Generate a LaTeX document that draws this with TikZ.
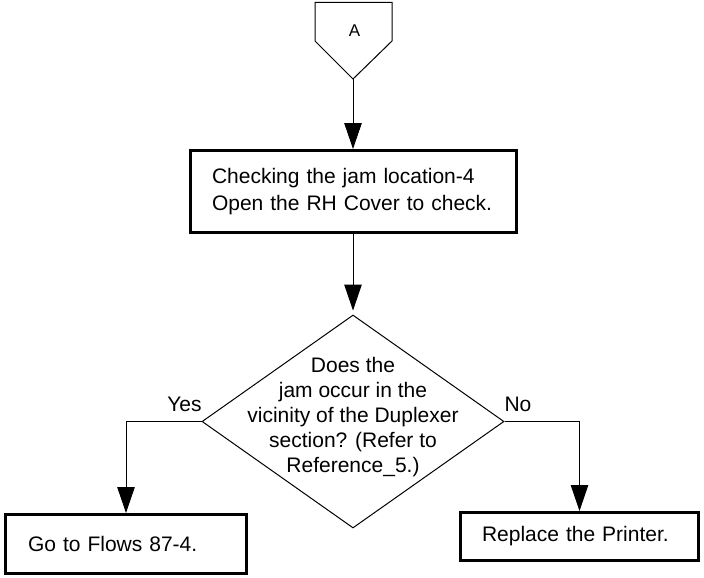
\documentclass[tikz,border=0pt]{standalone}
\usepackage{fontspec}
\setmainfont{Liberation Sans}
\usetikzlibrary{arrows.meta,shapes.geometric}
\begin{document}
\begin{tikzpicture}[x=1pt,y=-1pt,
  conn/.style={line width=1pt,-{Triangle[length=26pt,width=17.5pt]}},
  procbox/.style={draw,line width=3.3pt,rectangle,align=left,inner ysep=0pt,
    font=\fontsize{21}{27}\selectfont},
  lbl/.style={inner sep=0pt,font=\fontsize{21}{25}\selectfont},
  decision/.style={draw,line width=1pt,diamond,inner sep=0pt}
]
\useasboundingbox (0,0) rectangle (704,578);
% off-page connector A
\node[inner sep=0pt,font=\fontsize{17}{20}\selectfont] (A) at (354.5,31) {A};
\coordinate (Ap) at (353,79);
\draw[line width=1pt] (315,2.5) -- (392,2.5) -- (392,41) -- (Ap) -- (315,41) -- cycle;
% process box
\node[procbox,minimum width=325.7pt,minimum height=81.7pt,text width=283pt,inner xsep=21.35pt]
  (b1) at (353.5,191.5) {Checking the jam location-4\\Open the RH Cover to check.};
% decision
\node[decision,minimum width=302pt,minimum height=213pt] (dia) at (353,421.5) {};
\node[lbl,align=center] (diat) at (353,417)
  {Does the\\jam occur in the\\vicinity of the Duplexer\\section? (Refer to\\Reference\_5.)};
% results
\node[procbox,minimum width=240.7pt,minimum height=58.7pt,text width=196pt,inner xsep=22.35pt]
  (go) at (126,544) {Go to Flows 87-4.};
\node[procbox,minimum width=237.7pt,minimum height=47.7pt,text width=195pt,inner xsep=21.35pt]
  (rep) at (579.5,536.5) {Replace the Printer.};
% labels
\node[lbl] (yes) at (184.5,404) {Yes};
\node[lbl] (no) at (518,404) {No};
% connectors
\draw[conn] (Ap) -- (Ap |- b1.north);
\draw[conn,shorten >=4pt] (b1.south -| dia.north) -- (dia.north);
\draw[conn] (dia.west) -| (go.north);
\draw[conn] (dia.east) -| (rep.north);
\end{tikzpicture}
\end{document}
